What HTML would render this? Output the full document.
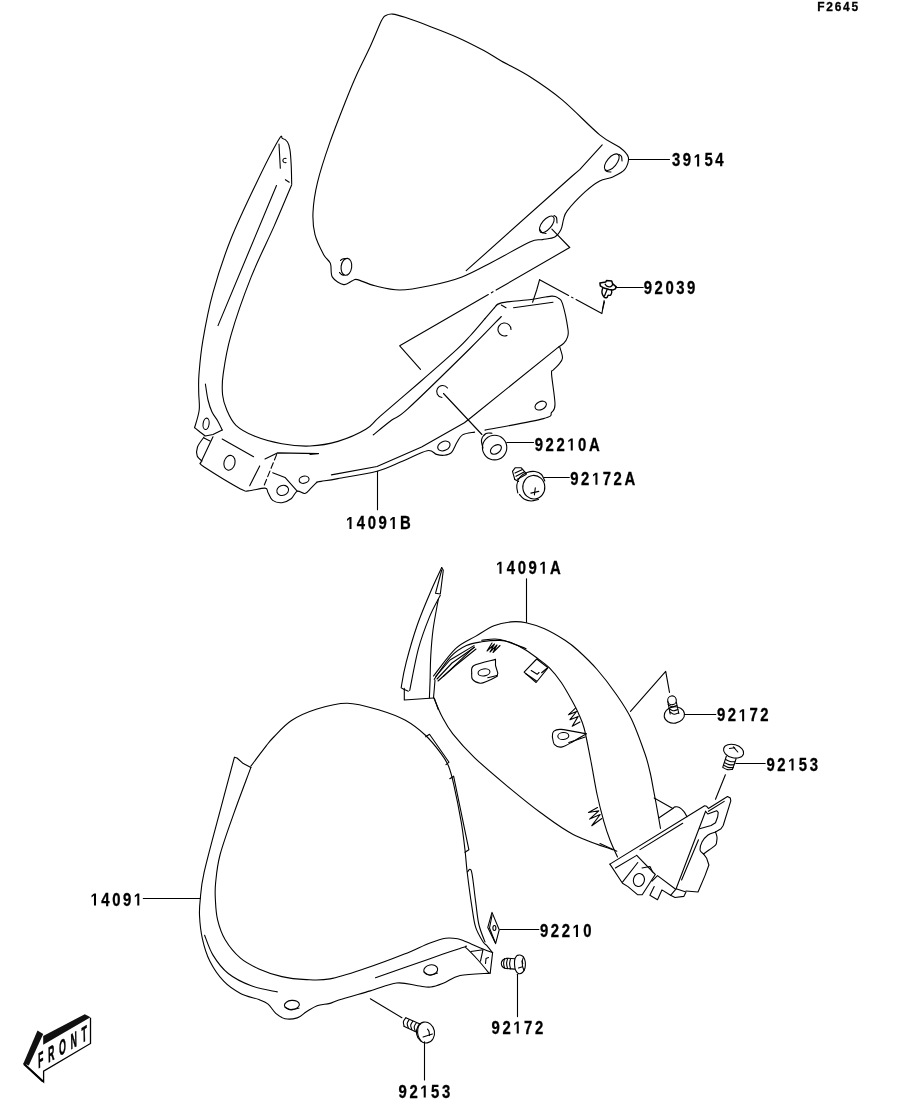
<!DOCTYPE html>
<html><head><meta charset="utf-8"><style>
html,body{margin:0;padding:0;background:#fff;width:914px;height:1103px;overflow:hidden}
svg{display:block;will-change:transform}
</style></head><body>
<svg width="914" height="1103" viewBox="0 0 914 1103">
<g fill="none" stroke="#000" stroke-width="1.1" stroke-linejoin="round" stroke-linecap="round">
<path d="M381.4 20.8C384 15.6 383.9 16.6 385.8 15.5C387.7 14.4 389.6 13.8 392.8 14.1C396 14.4 398.6 15.2 405 17.3C411.4 19.4 422.6 23.5 431.3 26.9C440.1 30.2 448.8 33.5 457.5 37.4C466.2 41.3 476.5 46.6 483.8 50.5C491.1 54.4 493.6 56.6 501.3 61C509 65.4 519.9 70.3 530 76.8C540.1 83.3 550.6 90.2 562.2 99.9C573.8 109.6 590.1 126.9 599.7 134.8C609.3 142.7 614.8 143.6 619.6 147.3C624.4 151 627.5 153.5 628.3 157.2C629.1 160.9 627.3 166.4 624.6 169.7C621.9 173 616.2 175.3 612.1 177.2C608 179.1 604.3 178.5 599.7 181C595.1 183.5 590.1 187.2 584.7 192.2C579.3 197.2 570.7 206.3 567.2 210.9C563.7 215.5 564.5 216.5 563.5 219.6C562.5 222.7 562.5 226.7 561 229.6C559.5 232.5 557.9 235.3 554.8 237C551.7 238.7 546.5 238.8 542.3 239.6C538.1 240.4 538.1 238.3 529.8 242C521.5 245.7 503.7 256.2 492.4 262C481.1 267.8 472.4 273 462 277C451.6 281 440.1 283.6 429.7 285.8C419.3 288 408.9 290 399.8 290C390.7 290 381.9 287.5 374.8 285.8C367.7 284.1 361.1 280.4 357.4 279.6C353.7 278.8 354.7 280 352.4 280.8C350.1 281.6 347 285.2 343.7 284.6C340.4 284 334.6 280.6 332.4 277.1C330.2 273.6 331.8 267.1 330.4 263.4C328.9 259.7 326.3 259.5 323.7 254.7C321.1 249.9 316.8 241.8 315 234.7C313.2 227.6 312.6 220.9 313 212.2C313.4 203.5 314.7 193.9 317.5 182.3C320.3 170.7 325.1 156.1 329.9 142.4C334.7 128.7 341.6 111.4 346.1 100C350.6 88.6 353 82.8 357 74C361 65.2 365.9 55.9 370 47C374.1 38.1 378.8 26.1 381.4 20.8Z"/>
<ellipse cx="346.4" cy="266.8" rx="5.3" ry="8.5" transform="rotate(8 346.4 266.8)"/>
<path d="M340.5 260.5C340.8 260.2 341.6 259.3 342.5 259C343.4 258.7 345.4 258.6 346 258.5"/>
<path d="M339.5 272.5C339.8 272.8 340.8 274 341.5 274.5C342.2 275 343.6 275.2 344 275.3"/>
<ellipse cx="611.8" cy="162.2" rx="10" ry="4.8" transform="rotate(-50 611.8 162.2)"/>
<path d="M619 154.5C619.4 154.8 621 155.4 621.5 156.5C622 157.6 621.9 160.2 622 161"/>
<path d="M605 169.8C605.3 170.1 606 171.1 607 171.5C608 171.9 610.3 171.9 611 172"/>
<ellipse cx="546.8" cy="224.3" rx="10" ry="4.8" transform="rotate(-50 546.8 224.3)"/>
<path d="M554 215.5C554.4 215.8 556 216.2 556.5 217.5C557 218.8 556.9 222.1 557 223"/>
<path d="M540 229.5C540.3 230 541 231.8 542 232.5C543 233.2 545.3 233.3 546 233.5"/>
<path d="M602.2 144.8 L579.7 169.7 L572.2 176 L466.2 270.7"/>
<path d="M551.9 229.1 L569.7 247.5"/>
<path d="M569.7 247.5 L399.7 345.8 L420.5 369.4" stroke-dasharray="85 3.5 2 3.5 500"/>
<path d="M629 159.5 L669.5 159.5"/>
<path d="M291.7 184C291.6 180.8 291.5 170.7 291.2 165C290.9 159.3 290.6 153.8 290 150C289.4 146.2 288.8 143.9 287.5 142C286.2 140.1 284 138.8 282.5 138.5C281 138.2 282.9 132.5 278.5 140C274.1 147.5 264.1 166.9 256.2 183.5C248.2 200.1 238 221.1 230.8 239.3C223.6 257.5 217.7 275.7 213 292.6C208.3 309.5 205.1 327.3 202.8 340.9C200.5 354.4 199.7 365.4 199 373.9C198.3 382.4 198.7 386 198.7 392C198.7 398 199.9 404.1 199.2 410C198.5 415.9 195.4 424.7 194.6 427.6"/>
<path d="M194.6 427.6 L200 432 L205.3 436 L213 434.5 L222.2 429.9"/>
<path d="M205.4 384C205.8 386.7 206.9 395.3 208 400C209.1 404.7 210.4 408.6 212 412C213.6 415.4 215.9 417.7 217.6 420.7C219.3 423.7 221.4 428.4 222.2 429.9"/>
<ellipse cx="206.1" cy="423.8" rx="3" ry="5.7" transform="rotate(8 206.1 423.8)"/>
<path d="M291.7 184.7C288.7 191.7 280.7 211.2 273.9 226.6C267.1 242 258.2 259.2 251 277.4C243.8 295.6 235.4 319.7 230.8 335.8C226.2 351.9 224.6 364 223.2 373.9C221.8 383.8 222 389 222.6 395C223.2 401 224.6 404.9 226.8 410C229 415.1 231.4 421 236 425.3C240.6 429.6 246.7 432.9 254.3 436C261.9 439.1 272.6 442 281.9 443.7C291.2 445.4 300.7 446.4 310 446C319.3 445.6 328.6 444.2 337.9 441.4C347.2 438.6 358.8 433.5 365.8 429.3C372.8 425.1 371 424.3 380 416.4C389 408.5 407.2 393.1 420 382C432.8 370.9 448.3 357.4 456.6 349.7C464.9 342 465.3 341.2 470 336C474.7 330.8 482.5 321.5 485 318.6"/>
<path d="M485 318.6 L494.5 307.7"/>
<path d="M494.5 307.7C495.6 306.9 495.2 304.3 501.3 302.9C507.4 301.5 522.8 300.6 531.2 299.5C539.6 298.4 547.1 296.3 551.6 296.1C556.1 295.9 556.6 296.9 558.4 298.2C560.2 299.4 560.9 298.4 562.5 303.6C564.1 308.8 567.2 323.8 568 329.5C568.8 335.2 568 335.3 567.3 337.6C566.6 339.9 565.4 341.5 563.9 343.1C562.4 344.7 559.3 346.4 558.4 347.1"/>
<path d="M276.5 185.5 L218 325.6"/>
<path d="M279 144 L280.3 168.2"/>
<path d="M286 158.5 A2.2 2.2 0 1 0 286 162.5"/>
<path d="M285.4 179.7 L289.2 182.2"/>
<path d="M331.4 474.9 L377 466.5 L421.6 447 L464.4 422.8 L471.4 417.2 L558.4 347.1"/>
<path d="M373.3 434.8C376.4 432.3 386 424.4 391.8 420C397.6 415.6 395 420.5 408 408.6C421 396.7 454.4 363.9 470 348.5C485.6 333.1 496.1 321.8 501.3 316.5"/>
<path d="M310 454.4 L318.4 453.5"/>
<path d="M317.1 482C317.8 481.9 317.7 482 321.2 481.4C324.7 480.8 328.6 480.3 337.9 478.6C347.2 476.9 366.1 474.1 377 471.2C387.9 468.2 394.6 464.3 403 460.9C411.4 457.5 421.6 451.8 427.2 450.7C432.8 449.6 433.7 453.6 436.5 454.4C439.3 455.2 441.4 455.6 443.9 455.3C446.4 455 449.2 454.8 451.4 452.6C453.6 450.4 455.1 445.2 457 442.3C458.9 439.4 459.6 436.6 462.5 434.9C465.4 433.2 472.6 432.6 474.6 432.1"/>
<path d="M485 430.1C494.8 428.2 532.4 421.6 543.5 418.6C554.6 415.7 549.7 414.8 551.6 412.4C553.5 410 555 410.6 555 404.3C555 398 551.9 380.1 551.6 374.4C551.3 368.7 551.9 371.9 553 370.3C554.1 368.7 556.8 366.9 558.4 364.8C560 362.8 562.3 360.9 562.5 358C562.7 355.1 560.2 348.9 559.8 347.1"/>
<ellipse cx="443.9" cy="446" rx="6.5" ry="4.5" transform="rotate(-25 443.9 446)"/>
<ellipse cx="540.7" cy="405.6" rx="6" ry="4" transform="rotate(-25 540.7 405.6)"/>
<path d="M213 436.8 L200.7 462.8"/>
<path d="M200.7 462.8C201.2 463.4 197.2 462.4 203.8 466.7C210.4 471 233.1 484.9 240.5 488.9C247.9 492.9 244.1 491 248.2 490.9C252.3 490.8 261.7 487.8 265 488.1C268.3 488.4 266.8 490.6 268.1 492.7C269.4 494.8 270.4 498.7 272.7 500.4C275 502.1 278.8 503 281.9 502.7C285 502.4 288.6 500.7 291.1 498.8C293.7 496.9 294.9 492.1 297.2 491.2C299.5 490.3 302.6 494 304.9 493.5C307.2 493 309 490 311 488.1C313 486.2 316.1 483 317.1 482"/>
<path d="M204 437C202.9 438.7 198.6 443.8 197.5 447C196.4 450.2 196.4 453.7 197.2 456C197.9 458.3 201.2 460.2 202 461"/>
<path d="M204 438 L210 441"/>
<path d="M222.2 439.1 L253.6 456.7"/>
<ellipse cx="229.5" cy="462.8" rx="5.5" ry="7.5" transform="rotate(15 229.5 462.8)"/>
<path d="M249.7 485.8 L259.7 465.9"/>
<path d="M265 459 L277.3 452.9 L318.4 453.6"/>
<path d="M264.3 485 L277.3 452.9" stroke-dasharray="6 3"/>
<ellipse cx="282.7" cy="490.4" rx="6" ry="5" transform="rotate(-20 282.7 490.4)"/>
<path d="M272.7 472.8 L285 477.4 L297.2 491.2"/>
<ellipse cx="304.1" cy="479.7" rx="5" ry="3.5" transform="rotate(-15 304.1 479.7)"/>
<path d="M511 329.5 A6.5 6.5 0 1 0 507 335.5"/>
<path d="M513.5 307.7 L553 302.2"/>
<path d="M501.3 305 L506 307.7"/>
<path d="M447.5 388 A6 6 0 1 0 442 397.5"/>
<path d="M443.5 393.5 L481.9 434.5"/>
<path d="M377.5 471.2 L377.5 509.7"/>
<path d="M532.6 302.2 L536.7 290 L539.6 279.7"/>
<path d="M539.6 279.7 L601.9 313.6 L604.1 300.5" stroke-dasharray="33 3.5 1.5 3.5 200"/>
<path d="M599.9 282.9 L605.8 281.9 L606.5 280.6 L611.7 281.1 L612.7 283.9 L616.3 286.8 L615.3 288.8 L612.7 290.1 L609.1 289.4 L603.9 288.1 L600.3 285.8Z" stroke-width="1.5"/>
<path d="M605.2 284.2C605.5 284.5 606 285.8 606.8 286.2C607.6 286.6 609.2 286.9 610.1 286.8C611 286.7 611.7 286 612.1 285.5C612.5 285 612.6 284.2 612.7 283.9" stroke-width="1.3"/>
<path d="M602.5 288.8C602.4 289.4 601.8 291 601.9 292.1C602 293.2 602.4 294.4 602.9 295.3C603.4 296.2 604.1 297.3 604.8 297.6C605.5 297.9 606.5 297.7 607.1 297.3C607.7 296.9 607.6 295.6 608.1 295.3C608.6 295 609.8 295.7 610.4 295.3C611 294.9 611.5 293.5 611.7 292.7C611.9 291.9 611.5 290.8 611.4 290.4" stroke-width="1.4"/>
<path d="M607.1 289.4 L604.5 296" stroke-width="1.3"/>
<path d="M604.5 301.9 L602.5 309.4"/>
<path d="M615.6 287.5 L643.2 287.5"/>
<path d="M483 448C482.8 446.7 481 442.4 481.5 440C482 437.6 484.2 434.6 486 433.5C487.8 432.4 491 433.2 492 433.2"/>
<ellipse cx="494.6" cy="447.6" rx="12.2" ry="12.3"/>
<ellipse cx="495.9" cy="449.4" rx="6.1" ry="4" transform="rotate(-35 495.9 449.4)"/>
<path d="M506.8 442.5 L533.5 442.5"/>
<path d="M517.8 493C517.6 491.7 516.4 487.7 516.8 485C517.2 482.3 518.3 479.1 520 477C521.7 474.9 524.5 473.4 527 472.5C529.5 471.6 532.6 471.2 535 471.5C537.4 471.8 539.9 472.9 541.5 474.5C543.1 476.1 544.2 479.9 544.8 481"/>
<ellipse cx="533.8" cy="487.2" rx="11" ry="11.8" transform="rotate(-5 533.8 487.2)"/>
<path d="M519.5 494.5C520.2 495.2 522.1 497.9 524 499C525.9 500.1 528.6 500.9 531 501C533.4 501.1 537.2 499.8 538.5 499.5"/>
<path d="M514.8 479.5 L512.5 471.3 L515.1 467.8 L521.3 467.8 L526.5 473.9"/>
<path d="M514.8 479.5 L518.6 481.5"/>
<path d="M515 473 L522.5 469.5"/>
<path d="M516 476.3 L524.5 471.7"/>
<path d="M517.3 479.3 L526 474.5"/>
<path d="M530.9 493.1 L538.8 491.4"/>
<path d="M535.3 487.9 L534.4 494.9"/>
<path d="M544.1 477.5 L569.3 477.5"/>
<path d="M433.5 676C437.2 671.5 448.6 655.3 455.6 648.7C462.6 642.1 469.1 640.2 475.5 636.4C481.9 632.6 488 628.1 493.9 625.7C499.8 623.3 505.4 622.4 510.8 621.9C516.2 621.4 520.5 621.6 526.1 622.7C531.7 623.9 538 625.9 544.5 628.8C551 631.7 559.4 636.7 565 640.3C570.6 643.9 572.8 645.6 578.1 650.5C583.5 655.4 590.8 662.2 597.1 669.5C603.5 676.8 610.5 686 616.2 694.3C621.9 702.5 626.6 709.2 631.4 719C636.2 728.8 641.7 744.5 644.8 753.3C647.9 762.1 648.5 765.9 650 772C651.5 778.1 652.5 784.8 653.5 790C654.5 795.2 654.8 796.6 656 803C657.2 809.4 659.8 824.2 660.5 828.5"/>
<path d="M434.2 679.3C437 675.5 445.6 662 451 656.4C456.4 650.8 461.3 648 466.4 645.6C471.5 643.2 476.1 642.7 481.7 641.8C487.3 640.9 495.1 640.3 500 640.4C504.9 640.5 506.7 641 510.9 642.6C515.1 644.2 520.6 647 525.2 649.7C529.8 652.4 534.3 656 538.3 659C542.3 662 545.4 663.8 549.2 667.7C553 671.6 557.5 676.9 561.3 682.5C565.1 688.1 569.3 695.8 572.2 701.1C575.1 706.4 576.8 709.6 578.8 714.2C580.8 718.8 582.2 720.9 584.2 728.5C586.2 736.1 588.5 748.9 590.7 760C592.9 771.1 595 784.8 597.2 795C599.4 805.2 601.7 813.8 603.8 821.3C605.9 828.8 607.7 834 610 840C612.3 846 616.2 854.2 617.5 857"/>
<path d="M481.7 640.3C484.8 640.2 492.6 638.1 500 639.5C507.4 640.9 521.8 647.2 526.1 648.7"/>
<path d="M434.2 698.8C435.5 701.7 438.8 710.5 441.9 716.3C445 722.1 447.3 726.9 452.8 733.8C458.3 740.7 465.6 749 474.7 757.8C483.8 766.5 496.6 777.2 507.5 786.3C518.5 795.4 529.4 804.5 540.4 812.5C551.4 820.5 561.2 828.2 573.2 834.4C585.2 840.6 606 847.2 612.6 849.7"/>
<path d="M441.7 567.5C439.9 571.5 434.9 581.7 430.8 591.3C426.7 600.9 421.3 613.4 417.2 625.2C413.1 637 408.9 651.9 406.3 661.9C403.7 671.9 402.3 680.6 401.6 685C400.9 689.4 401.1 687.4 402.2 688.4C403.3 689.4 407.3 690.7 408.3 691.2"/>
<path d="M441.7 567.5 L443.3 570.2 L440.3 594 L435.5 593.3 L441.7 570"/>
<path d="M440.3 595.3C438.5 598.9 433 608.2 429.4 617.1C425.8 626 421.8 636.2 418.5 648.4C415.2 660.6 411.2 683.5 409.7 690.5"/>
<path d="M438.3 599.4C437.4 604.5 434.2 620.7 433 630C431.8 639.3 431.3 646.8 430.8 655.1C430.3 663.4 430.2 675.5 430.1 679.6"/>
<path d="M404.3 688.4 L404.3 700 L433.5 698"/>
<path d="M429.4 698C429.5 695 430 683 430.1 680"/>
<path d="M433.5 698C433.6 696.7 433.9 693 434.2 690C434.4 687 434.9 681.7 435 680"/>
<path d="M434.2 698 L438.3 709.5"/>
<path d="M435.7 676.3 L450 660 L474 645.6"/>
<path d="M437 679 L452 663 L474.5 647.2"/>
<path d="M438 681 L455 666 L476 649"/>
<path d="M443.4 676.3 L474 647.2"/>
<path d="M492 643 L487 651 L494.5 644 L490 652 L497 645 L493 652.5 L500 645.5"/>
<path d="M471.7 673.2C472.1 671.9 470 667.8 474 665.5C478 663.2 491.9 660.4 495.5 659.4"/>
<path d="M495.5 659.4 L495.5 665.5 L497.8 673.2 L497 676.3"/>
<path d="M497 676.3C495.5 677.1 490.6 679.8 487.8 680.9C485 682 482.7 683.5 480.1 683.2C477.6 682.9 473.9 681 472.5 679.3C471.1 677.6 471.8 674.2 471.7 673.2"/>
<ellipse cx="484" cy="672.4" rx="6" ry="3.5" transform="rotate(-10 484 672.4)"/>
<path d="M487.8 677.8 L497 675.5"/>
<path d="M524.1 672.1 L536.7 659 L548.1 667.7 L536.1 682.5Z"/>
<path d="M531.2 670.5 L537.2 674.3 L539 672.5"/>
<path d="M541.6 672.7 L547 668.3"/>
<path d="M525.5 673.5 L536.5 681"/>
<path d="M552.4 737C552.6 736.1 552 732.9 553.5 731.6C555 730.3 555.6 729 561.1 729.4C566.6 729.8 582.1 733.1 586.3 733.8"/>
<path d="M586.3 733.8C584.1 735.1 577.2 739.2 573.2 741.4C569.2 743.6 565.3 746.3 562.2 746.9C559.1 747.5 556.2 746.4 554.6 744.7C553 743.1 552.8 738.3 552.4 737"/>
<ellipse cx="563.3" cy="736" rx="5.5" ry="3.5" transform="rotate(-5 563.3 736)"/>
<path d="M568.8 742.5 L585.2 737"/>
<path d="M575.5 708.2 L568.4 714.8 L576.6 711.5 L570 719.7 L578.2 716.4 L572.2 726.3 L579.9 721.9"/>
<path d="M597.5 807.5 L588.5 812.5 L598.8 810.8 L589.6 819.1 L600.2 814.5 L591.8 825.7 L601.8 818.5"/>
<path d="M526.5 578.7 L526.5 622.3"/>
<path d="M609.9 864.1 L704.6 805.8 L706.7 806.3 L708.4 808.5 L727.5 796.5 L730.3 798.1 L730.8 800.9 L723.2 825.5 L721 828.8 L715.5 832"/>
<path d="M715.5 832C715.8 832.8 716.8 835.4 717 837C717.2 838.6 716.9 840.5 716.6 841.9C716.4 843.3 716.8 843.9 715.5 845.2C714.2 846.6 711 848.5 709 850C707 851.5 704.4 853.2 703.5 853.9"/>
<path d="M715.5 832C714.2 832.5 710.2 833.3 708 835C705.8 836.7 703.3 839.5 702 842C700.7 844.5 699.8 848 700 850C700.2 852 702.9 853.2 703.5 853.9"/>
<path d="M703.5 853.9 L706.7 858.3 L708.9 865 L705 875.6 L698 892 L686 891"/>
<path d="M640 849.6 L682.7 823.3"/>
<path d="M615.4 868 L636.7 855.4"/>
<path d="M708.4 811.3 L724.2 801.4"/>
<path d="M705.6 811.3 L707.8 814 L716.6 810.7 L718.2 812.4 L717.7 816.7 L715.5 822.7 L711.1 825.5 L699.6 828.8"/>
<path d="M705.6 811.3 L676.1 888.8"/>
<path d="M698.5 839.7 L681.6 880"/>
<path d="M609.9 864.1 L622.5 883.3 L628 886.6 L637.8 894.8 L642.2 894.8 L655.3 874.5 L636.7 855.4"/>
<path d="M622.5 882.2 L637.8 862.5"/>
<ellipse cx="638.9" cy="880" rx="5.5" ry="6.5" transform="rotate(15 638.9 880)"/>
<path d="M642 868 L650 866.5 L652.5 872"/>
<path d="M652 881.1 L657.5 875.6 L675 888.8"/>
<path d="M654.2 886.6 L649.9 895.3 L657.5 899.7 L661.9 889.9 L670.6 895.3"/>
<path d="M670.6 895.3 L676.1 888.8 L686 892 L683.8 896.4 L675 897.5 L670.6 895.3"/>
<path d="M654.2 798.1 L672.8 808.5"/>
<path d="M672.8 808.5C673.2 808.2 673.9 807.1 675 806.9C676.1 806.7 677.9 806.7 679.4 807.4C680.9 808.1 682.5 809.8 683.8 811.3C685.1 812.8 686.5 815.8 687 816.7"/>
<path d="M659.1 817.8 L672.8 808.5"/>
<path d="M600 843.6 L616.8 851.3"/>
<path d="M630.5 711.4 L665.7 671.4 L669.5 692.4"/>
<ellipse cx="674.3" cy="715" rx="10.2" ry="8.2" transform="rotate(-8 674.3 715)"/>
<ellipse cx="672" cy="700.3" rx="4.3" ry="4.4" transform="rotate(-10 672 700.3)"/>
<path d="M667.8 701.5 L670.2 714"/>
<path d="M676.3 702 L678.8 713.5"/>
<path d="M668.2 704.5C668.8 704.9 670.6 706.6 672 706.8C673.4 707 676 705.7 676.8 705.5"/>
<path d="M669 708.5C669.7 708.9 671.5 710.6 673 710.8C674.5 711 677 709.7 677.8 709.5"/>
<path d="M670 712C670.7 712.4 672.6 714 674 714.2C675.4 714.4 677.8 713.2 678.6 713"/>
<path d="M684.5 714.5 L715.8 714.5"/>
<ellipse cx="733.6" cy="751.2" rx="10.3" ry="6.6" transform="rotate(15 733.6 751.2)"/>
<path d="M729.4 748.5 L734.7 747.8"/>
<path d="M733.4 746.8 L737.8 752"/>
<path d="M726.4 756 L722.9 766.9"/>
<path d="M736 759 L732.5 769.1"/>
<path d="M725.5 759.4C726.2 759.8 728.4 761.1 730 761.5C731.6 761.9 734.3 761.8 735.2 761.8"/>
<path d="M724.6 762.5C725.3 762.9 727.4 764.2 729 764.6C730.6 765 733.4 764.8 734.3 764.8"/>
<path d="M723.7 765.3C724.4 765.6 726.4 767 728 767.4C729.6 767.8 732.5 767.6 733.4 767.6"/>
<path d="M722.9 767.5C723.7 767.9 725.9 769.3 727.5 769.6C729.1 769.9 731.7 769.5 732.5 769.5"/>
<path d="M735.8 763.5 L765.2 763.5"/>
<path d="M725.4 774.7 L715.5 799.2"/>
<path d="M234.4 757.3C232.1 766 225.6 790 220.5 809.3C215.4 828.5 207.4 857.7 204 872.8C200.6 887.9 200.9 892.9 200.2 900C199.4 907.1 199.2 908.9 199.5 915.3C199.8 921.7 200.6 930.6 202.3 938.3C204 946 206.3 954.1 209.9 961.3C213.5 968.4 218.6 975.9 223.7 981.2C228.8 986.6 234.6 990.3 240.5 993.4C246.4 996.5 254.3 997.8 258.9 999.6C263.5 1001.4 265.3 1001.8 268.1 1004.1C270.9 1006.4 273 1010.9 275.8 1013.3C278.6 1015.7 281.4 1017.9 285 1018.7C288.6 1019.5 293.6 1019 297.2 1017.9C300.8 1016.8 303.1 1013.8 306.4 1011.8C309.7 1009.8 313.2 1007.1 317.1 1005.7C321 1004.3 326.4 1004.4 330 1003.4C333.6 1002.4 332.1 1002.1 338.8 1000C345.5 997.9 360.7 993.7 370.3 990.9C379.9 988.1 388.7 983.9 396.6 983C404.5 982.1 411.9 985 417.6 985.7C423.3 986.4 426.3 987.5 430.7 987C435.1 986.5 438.9 984.9 443.8 983C448.7 981.1 452.4 977.1 460.1 975.5C467.8 973.9 485.2 973.5 490.2 973.1"/>
<path d="M234.4 757.3 L237 758 L243.3 763.6 L250.9 767.4"/>
<path d="M204.6 935.2C206 938.5 209.1 948.7 213 955.1C216.9 961.5 221.9 968.4 228.3 973.5C234.7 978.6 243.1 982.7 251.3 985.8C259.5 988.9 273 990.9 277.3 991.9"/>
<path d="M250.9 767.4C248.2 774.8 239.6 797.3 234.4 811.9C229.2 826.5 223.1 843.1 220 855C216.9 866.9 216.4 875.5 215.6 883C214.8 890.5 215.1 893.9 215.4 900C215.7 906.1 216 913.3 217.6 919.9C219.2 926.5 221.4 933.4 225.2 939.8C229 946.2 234.9 953.4 240.5 958.2C246.1 963.1 252 965.8 258.9 968.9C265.8 972 274 974.8 281.9 976.6C289.8 978.4 298.4 979.2 306.4 979.6C314.4 980 320.2 980.7 330 978.9C339.8 977.1 352.6 972.7 365 968.6C377.4 964.5 393.6 958.4 404.4 954.1C415.2 949.8 423.1 945.6 430 943C436.9 940.4 441 938.9 445.6 938.2C450.2 937.5 454.3 938.2 457.7 938.8C461.1 939.4 461.9 940.1 466.1 941.8C470.3 943.5 478.6 947.3 483 949.1C487.4 950.9 491 952.1 492.6 952.7"/>
<path d="M250.9 766.2C253.4 762.8 262.4 750.8 266.2 745.9C270 741 269.6 741.2 273.8 737C278 732.8 284.3 725.2 291.5 720.5C298.7 715.8 307.7 711.9 317 709C326.3 706.1 336.9 703 347.4 703.2C357.9 703.4 370.3 707.4 380 710.2C389.7 713.1 397.8 716.1 405.4 720.3C413 724.5 419.8 730 425.7 735.5C431.6 741 437.1 748.2 440.9 753.3C444.7 758.4 446.4 760.9 448.5 766C450.6 771.1 451.5 774.5 453.6 783.8C455.7 793.1 459.3 810.9 461.2 821.9C463.1 832.9 464 841.5 465 850C466 858.5 466.1 863.5 467.3 873.2C468.5 882.9 470.7 899.1 472.1 908.1C473.5 917.1 473.9 921.8 475.7 927.4C477.5 933 481.2 938.8 483 941.8C484.8 944.8 485 943.6 486.6 945.4C488.2 947.2 491.6 951.5 492.6 952.7"/>
<path d="M492.6 952.7 L490.2 973.1"/>
<path d="M425.7 736.8 L429.5 734.3 L449 762.2 L446 764.7"/>
<path d="M449.8 778.7 L453.6 776.2 L468.9 849.8 L465 852.3"/>
<path d="M467.3 872C468 871.9 470.1 866.4 471.5 871.4C472.9 876.4 474.4 893.2 475.7 902.1C476.9 911 477.4 918.4 479 925C480.6 931.6 484 939.2 485 942"/>
<path d="M375.5 977.8C384.6 974.6 415.3 963.8 430 958.7C444.7 953.6 457.7 949.1 463.7 947.3C469.7 945.5 463.7 945.8 466.1 947.9C468.5 950 474.2 955.8 478 960C481.8 964.2 487.2 970.9 489 973.1"/>
<path d="M470.9 951.5 L483 949.7 L480.5 961.1"/>
<path d="M485.5 963.5 L486 958.5 L488.5 957.5"/>
<ellipse cx="291.9" cy="1004.9" rx="7.5" ry="4.5" transform="rotate(-5 291.9 1004.9)"/>
<path d="M285 1007C286 1007.5 288.7 1009.8 291 1010C293.3 1010.2 297.7 1008.3 299 1008"/>
<ellipse cx="430.7" cy="969.9" rx="7" ry="5" transform="rotate(-10 430.7 969.9)"/>
<path d="M424 972C425 972.5 427.8 975.1 430 975.3C432.2 975.5 436.2 973.4 437.5 973"/>
<path d="M143.3 898.5 L200.2 898.5"/>
<path d="M492 912.4 L499.2 929.8 L495.6 943.6 L487.8 927.4Z"/>
<path d="M492 915.5 L489.5 928 L495 942"/>
<ellipse cx="494.4" cy="928" rx="1.5" ry="2.5"/>
<path d="M499.8 929.5 L538.9 929.5"/>
<path d="M517 955.5C517.5 955.4 518.9 954.8 520 955C521.1 955.2 522.6 955.8 523.5 957C524.4 958.2 525 960.2 525.3 962C525.5 963.8 525.5 966.2 525 968C524.5 969.8 523.6 971.6 522.5 972.5C521.4 973.4 519.7 973.9 518.5 973.5C517.3 973.1 516.2 971.6 515.5 970C514.8 968.4 514.6 965.9 514.5 964C514.4 962.1 514.6 959.9 515 958.5C515.4 957.1 516.7 956 517 955.5"/>
<path d="M523.5 957C523.3 957.7 522.5 959.5 522.3 961C522.1 962.5 522.2 964.4 522.5 966C522.8 967.6 523.8 969.8 524 970.5"/>
<path d="M514.8 958.7 L507 958.2"/>
<path d="M514.8 969.1 L506 968.5"/>
<path d="M507 958.2C506.3 958.5 503.8 959.1 502.8 960C501.9 960.9 501.3 962.3 501.3 963.5C501.3 964.7 502 966.2 502.8 967C503.6 967.8 505.5 968.2 506 968.5"/>
<path d="M504.5 958.5C504.4 959.3 503.6 961.9 503.6 963.5C503.6 965.1 504.4 967.4 504.6 968.2"/>
<path d="M507.6 958.6C507.4 959.4 506.6 961.9 506.6 963.6C506.6 965.3 507.4 967.8 507.6 968.6"/>
<path d="M510.5 958.7C510.4 959.6 509.6 962.1 509.6 963.8C509.6 965.5 510.4 968 510.6 968.9"/>
<path d="M518.5 968 L522.5 966.8"/>
<path d="M522 961 L522.8 963.5"/>
<path d="M517.5 974.3 L517.5 1016.6"/>
<ellipse cx="425.5" cy="1032.5" rx="9" ry="10.5" transform="rotate(-10 425.5 1032.5)"/>
<path d="M420 1023.5C419.6 1024.4 418.1 1026.9 417.8 1029C417.5 1031.1 417.6 1033.9 418.2 1036C418.8 1038.1 420.9 1040.6 421.5 1041.5"/>
<path d="M405.8 1017.8 L420.6 1024.2"/>
<path d="M403.9 1026.2 L417.2 1032.6"/>
<path d="M405.8 1017.8C405.4 1018.4 403.7 1020.3 403.4 1021.7C403.1 1023.1 404 1025.5 404.1 1026.2"/>
<path d="M409.3 1019.5C408.9 1020.2 407.4 1022.1 407.2 1023.5C407 1024.9 408.1 1027.1 408.3 1027.8"/>
<path d="M412.8 1021.2C412.4 1021.9 410.9 1023.8 410.7 1025.2C410.5 1026.6 411.6 1028.8 411.8 1029.5"/>
<path d="M416.3 1022.9C415.9 1023.6 414.4 1025.5 414.2 1026.9C414 1028.3 415.1 1030.5 415.3 1031.2"/>
<path d="M427.5 1029.1C427.8 1029.5 428.7 1030.4 429 1031.5C429.3 1032.6 429.4 1034.8 429.5 1035.5"/>
<path d="M423.1 1037 L432.4 1034"/>
<path d="M370.3 998.8 L401.9 1017.7"/>
<path d="M424.5 1041.8 L424.5 1080"/>
</g>
<g font-family="Liberation Sans, sans-serif" font-weight="bold" fill="#000" stroke="#000" stroke-width="0.3">
<g transform="translate(672 166.4) scale(0.85 1)"><text font-size="17.5" letter-spacing="3">39&#8199;54</text><path transform="translate(25.465 0) scale(0.00854 -0.00854)" d="M478 0L478 1170L140 959L140 1180L493 1409L759 1409L759 0Z"/></g>
<g transform="translate(817.3 11.4) scale(0.9 1)"><text font-size="13.3" letter-spacing="1.9">F2645</text></g>
<g transform="translate(346 529.1) scale(0.85 1)"><text font-size="17.5" letter-spacing="3">&#8199;409&#8199;B</text><path transform="translate(0.000 0) scale(0.00854 -0.00854)" d="M478 0L478 1170L140 959L140 1180L493 1409L759 1409L759 0Z"/><path transform="translate(50.931 0) scale(0.00854 -0.00854)" d="M478 0L478 1170L140 959L140 1180L493 1409L759 1409L759 0Z"/></g>
<g transform="translate(643.8 294.2) scale(0.85 1)"><text font-size="17.5" letter-spacing="3">92039</text></g>
<g transform="translate(534.8 450.5) scale(0.85 1)"><text font-size="17.5" letter-spacing="3">922&#8199;0A</text><path transform="translate(38.198 0) scale(0.00854 -0.00854)" d="M478 0L478 1170L140 959L140 1180L493 1409L759 1409L759 0Z"/></g>
<g transform="translate(570.3 484.8) scale(0.85 1)"><text font-size="17.5" letter-spacing="3">92&#8199;72A</text><path transform="translate(25.465 0) scale(0.00854 -0.00854)" d="M478 0L478 1170L140 959L140 1180L493 1409L759 1409L759 0Z"/></g>
<g transform="translate(496 573.8) scale(0.85 1)"><text font-size="17.5" letter-spacing="3">&#8199;409&#8199;A</text><path transform="translate(0.000 0) scale(0.00854 -0.00854)" d="M478 0L478 1170L140 959L140 1180L493 1409L759 1409L759 0Z"/><path transform="translate(50.931 0) scale(0.00854 -0.00854)" d="M478 0L478 1170L140 959L140 1180L493 1409L759 1409L759 0Z"/></g>
<g transform="translate(717 721.2) scale(0.85 1)"><text font-size="17.5" letter-spacing="3">92&#8199;72</text><path transform="translate(25.465 0) scale(0.00854 -0.00854)" d="M478 0L478 1170L140 959L140 1180L493 1409L759 1409L759 0Z"/></g>
<g transform="translate(766.4 770.5) scale(0.85 1)"><text font-size="17.5" letter-spacing="3">92&#8199;53</text><path transform="translate(25.465 0) scale(0.00854 -0.00854)" d="M478 0L478 1170L140 959L140 1180L493 1409L759 1409L759 0Z"/></g>
<g transform="translate(90.5 905.6) scale(0.85 1)"><text font-size="17.5" letter-spacing="3">&#8199;409&#8199;</text><path transform="translate(0.000 0) scale(0.00854 -0.00854)" d="M478 0L478 1170L140 959L140 1180L493 1409L759 1409L759 0Z"/><path transform="translate(50.931 0) scale(0.00854 -0.00854)" d="M478 0L478 1170L140 959L140 1180L493 1409L759 1409L759 0Z"/></g>
<g transform="translate(540 936.9) scale(0.85 1)"><text font-size="17.5" letter-spacing="3">922&#8199;0</text><path transform="translate(38.198 0) scale(0.00854 -0.00854)" d="M478 0L478 1170L140 959L140 1180L493 1409L759 1409L759 0Z"/></g>
<g transform="translate(491.6 1033.6) scale(0.85 1)"><text font-size="17.5" letter-spacing="3">92&#8199;72</text><path transform="translate(25.465 0) scale(0.00854 -0.00854)" d="M478 0L478 1170L140 959L140 1180L493 1409L759 1409L759 0Z"/></g>
<g transform="translate(398.6 1097.6) scale(0.85 1)"><text font-size="17.5" letter-spacing="3">92&#8199;53</text><path transform="translate(25.465 0) scale(0.00854 -0.00854)" d="M478 0L478 1170L140 959L140 1180L493 1409L759 1409L759 0Z"/></g>
</g>
<polygon points="23.5,1063.2 37.5,1030.4 43.2,1033.9 28.8,1065.4" fill="#111"/>
<polygon points="43.2,1036.1 84.8,1014.2 90.5,1017.3 43.2,1044.8" fill="#111"/>
<path d="M23.5 1063.2 L43.6 1082 L43.6 1071.1 L90.5 1043.5 L90.5 1017.7" fill="none" stroke="#000" stroke-width="1.3"/>
<path d="M24 1064 L43 1081.5" fill="none" stroke="#000" stroke-width="2.2"/>
<text transform="matrix(0.4050 -0.2385 0.0200 1.0000 38.20 1068.60)" font-family="Liberation Sans, sans-serif" font-weight="bold" font-size="21.5" letter-spacing="11.6" stroke="#000" stroke-width="0.6">FRONT</text>
</svg>
</body></html>
